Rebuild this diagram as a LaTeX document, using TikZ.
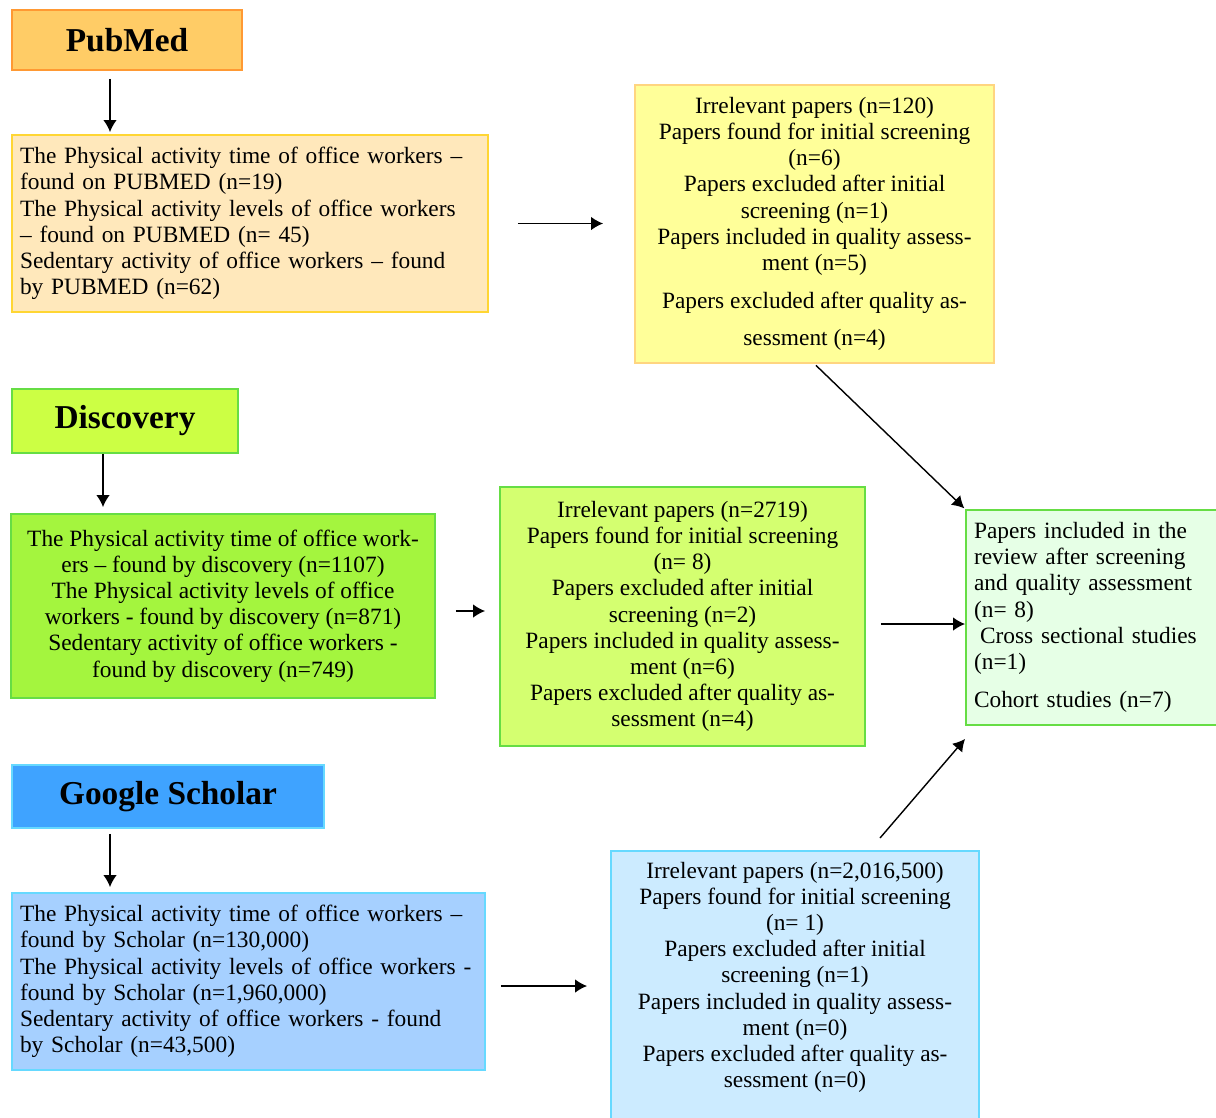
\documentclass[tikz,border=0pt]{standalone}
\usepackage{fontspec}
\setmainfont{Liberation Serif}
\usetikzlibrary{calc,arrows.meta}
\definecolor{pmfill}{HTML}{FFCC66}
\definecolor{pmline}{HTML}{FF9933}
\definecolor{pdfill}{HTML}{FFE8BB}
\definecolor{pdline}{HTML}{FFD633}
\definecolor{ybfill}{HTML}{FFFF99}
\definecolor{ybline}{HTML}{FFD580}
\definecolor{dcfill}{HTML}{CCFF44}
\definecolor{grline}{HTML}{66DD44}
\definecolor{ddfill}{HTML}{A4F53E}
\definecolor{lbfill}{HTML}{D4FF70}
\definecolor{resfill}{HTML}{E6FFE6}
\definecolor{gsfill}{HTML}{3FA3FF}
\definecolor{blline}{HTML}{66D9FF}
\definecolor{sdfill}{HTML}{A6D0FF}
\definecolor{bbfill}{HTML}{CCEBFF}

\begin{document}
\begin{tikzpicture}[x=0.02cm,y=-0.02cm,
  srcbox/.style={rectangle,draw,line width=1.1pt,font=\fontsize{19}{22}\selectfont\bfseries},
  infobox/.style={rectangle,draw,line width=1.1pt,font=\fontsize{13.3}{14.9}\selectfont,inner xsep=0.16cm},
  arr/.style={-{Latex[length=2.4mm,width=2.7mm]},line width=0.8pt}]
  \useasboundingbox (0,0) rectangle (1216,1117);
  % sources
  \draw(127,40) node[srcbox,fill=pmfill,draw=pmline,minimum width=4.6cm,minimum height=1.2cm] (pm) {PubMed};
  \draw(125,421) node[srcbox,fill=dcfill,draw=grline,minimum width=4.52cm,minimum height=1.28cm] (dc) {Discovery};
  \draw(168,796.5) node[srcbox,fill=gsfill,draw=blline,minimum width=6.24cm,minimum height=1.26cm] (gs) {Google Scholar};
  % search results
  \draw(250,223.5) node[infobox,fill=pdfill,draw=pdline,text width=9.2cm,align=left,minimum height=3.54cm] (pd)
    {The Physical activity time of office workers –\\ found on PUBMED (n=19)\\ The Physical activity levels of office workers\\
     – found on PUBMED (n= 45)\\ Sedentary activity of office workers – found\\ by PUBMED (n=62)};
  \draw(223,606) node[infobox,fill=ddfill,draw=grline,align=center,minimum width=8.48cm,minimum height=3.68cm] (dd)
    {The Physical activity time of office work-\\ ers – found by discovery (n=1107)\\ The Physical activity levels of office\\
     workers - found by discovery (n=871)\\ Sedentary activity of office workers -\\ found by discovery (n=749)};
  \draw(248.5,981.5) node[infobox,fill=sdfill,draw=blline,text width=9.14cm,align=left,minimum height=3.54cm] (sd)
    {The Physical activity time of office workers –\\ found by Scholar (n=130,000)\\ The Physical activity levels of office workers -\\
     found by Scholar (n=1,960,000)\\ Sedentary activity of office workers - found\\ by Scholar (n=43,500)};
  % screening
  \draw(814.5,224) node[infobox,fill=ybfill,draw=ybline,align=center,minimum width=7.18cm,minimum height=5.56cm] (yb)
    {Irrelevant papers (n=120)\\ Papers found for initial screening\\ (n=6)\\ Papers excluded after initial\\ screening (n=1)\\
     Papers included in quality assess-\\ ment (n=5)\\[0.24cm] Papers excluded after quality as-\\[0.22cm] sessment (n=4)};
  \draw(682.5,616.5) node[infobox,fill=lbfill,draw=grline,align=center,minimum width=7.3cm,minimum height=5.18cm] (lb)
    {Irrelevant papers (n=2719)\\ Papers found for initial screening\\ (n= 8)\\ Papers excluded after initial\\ screening (n=2)\\
     Papers included in quality assess-\\ ment (n=6)\\ Papers excluded after quality as-\\ sessment (n=4)};
  \draw(795,850) node[infobox,anchor=north,fill=bbfill,draw=blline,align=center,minimum width=7.36cm,inner ysep=0.22cm] (bb)
    {Irrelevant papers (n=2,016,500)\\ Papers found for initial screening\\ (n= 1)\\ Papers excluded after initial\\ screening (n=1)\\
     Papers included in quality assess-\\ ment (n=0)\\ Papers excluded after quality as-\\ sessment (n=0)\\[0.3cm]\mbox{}};
  % result
  \draw(1093.5,617.5) node[infobox,fill=resfill,draw=grline,text width=4.78cm,align=left,minimum height=4.3cm] (res)
    {Papers included in the\\ review after screening\\ and quality assessment\\ (n= 8)\\ \hspace{0.12cm}Cross sectional studies\\
     (n=1)\\[0.24cm] Cohort studies (n=7)};
  % arrows
  \draw[arr,shorten <=0.16cm,shorten >=0.04cm] ([xshift=-0.34cm]pm.south) -- ([xshift=-0.34cm]pm.south |- pd.north);
  \draw[arr,shorten >=0.12cm] ([xshift=-0.44cm]dc.south) -- ([xshift=-0.44cm]dc.south |- dd.north);
  \draw[arr,shorten <=0.1cm,shorten >=0.1cm] ([xshift=-1.16cm]gs.south) -- ([xshift=-1.16cm]gs.south |- sd.north);
  \draw[arr,shorten <=0.58cm,shorten >=0.62cm] (pd.east) -- (pd.east -| yb.west);
  \draw[arr,shorten <=0.4cm,shorten >=0.28cm] ([yshift=-0.1cm]dd.east) -- ([yshift=-0.1cm]dd.east -| lb.west);
  \draw[arr,shorten <=0.3cm,shorten >=0.46cm] ([yshift=-0.09cm]sd.east) -- ([yshift=-0.09cm]sd.east -| bb.west);
  \draw[arr,shorten <=0.3cm] ([yshift=-0.15cm]lb.east) -- ([yshift=-0.15cm]lb.east -| res.west);
  \draw[arr,shorten <=0.04cm,shorten >=0.02cm] (yb.south) -- (res.north west);
  \draw[arr] ($(bb.north)+(85,-12)$) -- ($(res.south west)+(0,13)$);
\end{tikzpicture}
\end{document}
